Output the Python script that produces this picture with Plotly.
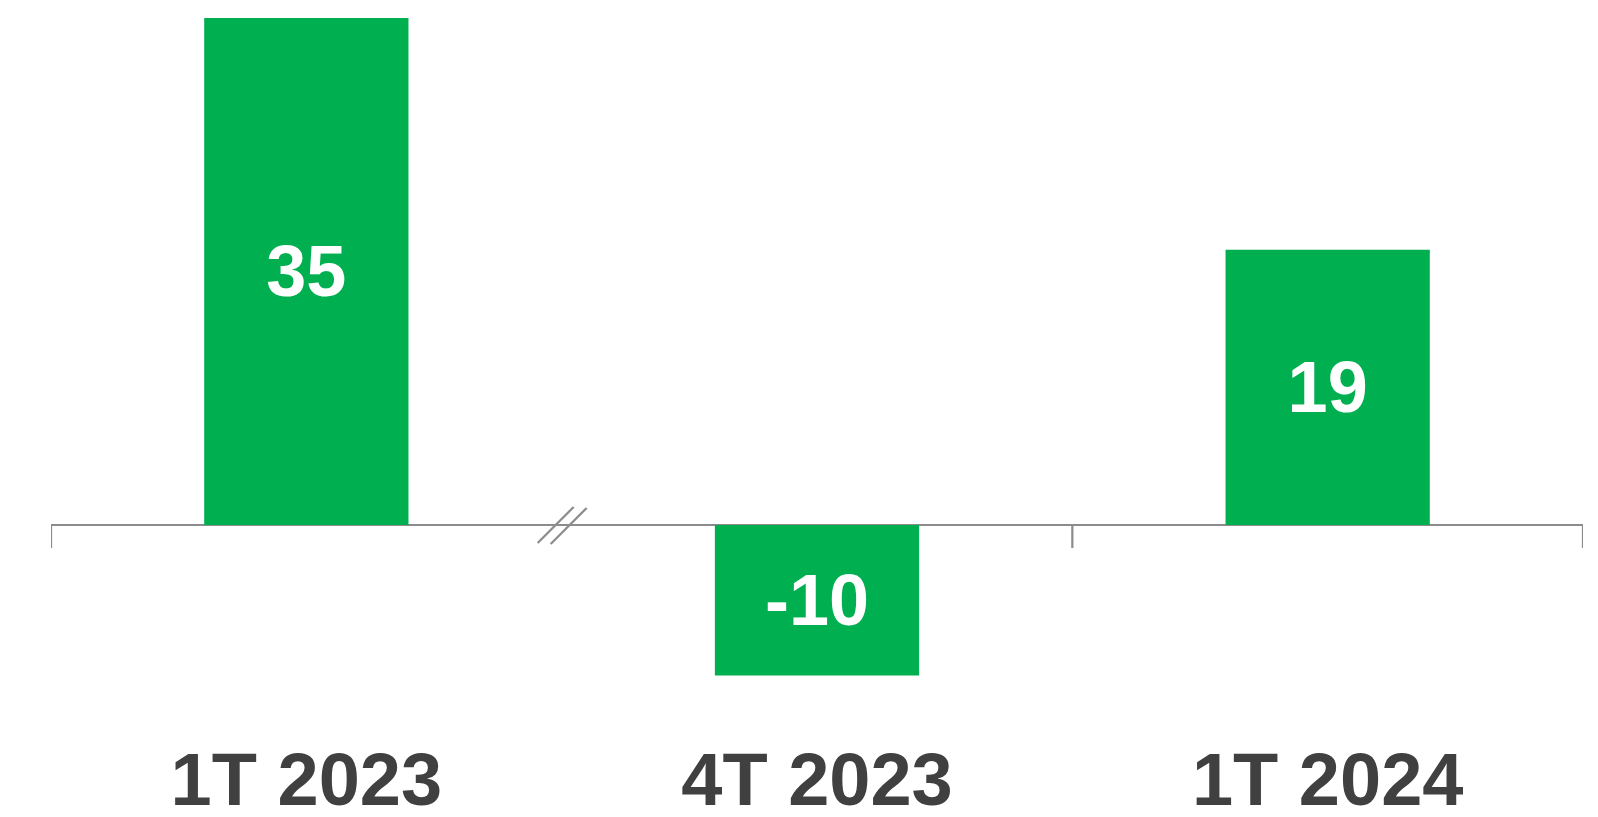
import plotly.graph_objects as go

categories = ["1T 2023", "4T 2023", "1T 2024"]
values = [35.0, -10.4, 19.0]

BAR_COLOR = "#00B050"
AXIS_COLOR = "#8C8C8C"
TEXT_COLOR = "#404040"
FONT = "Liberation Sans, Arial, sans-serif"

fig = go.Figure(
    go.Bar(
        x=categories,
        y=values,
        width=0.4,
        marker=dict(color=BAR_COLOR, line=dict(width=0)),
        texttemplate="%{y:.0f}",
        textposition="inside",
        insidetextanchor="middle",
        textangle=0,
        textfont=dict(family=FONT, size=72, color="white", weight="bold"),
        cliponaxis=False,
        hoverinfo="skip",
    )
)

shapes = []
# tick marks at category boundaries (excluding the broken one)
for xb in [-0.5, 1.5, 2.5]:
    shapes.append(dict(type="line", xref="x", yref="y", x0=xb, x1=xb,
                       ysizemode="pixel", yanchor=0, y0=0, y1=-23,
                       line=dict(color=AXIS_COLOR, width=2.25)))
# axis-break marks
for dx0, dy0, dx1, dy1 in [(-24, -18, 12, 18), (-11, -19, 25, 17)]:
    shapes.append(dict(type="line", xref="x", yref="y",
                       xsizemode="pixel", xanchor=0.5, x0=dx0, x1=dx1,
                       ysizemode="pixel", yanchor=0, y0=dy0, y1=dy1,
                       line=dict(color=AXIS_COLOR, width=2.25)))

fig.update_layout(
    width=1598, height=817,
    margin=dict(l=43, r=23, t=10, b=109),
    plot_bgcolor="white", paper_bgcolor="white",
    showlegend=False,
    bargap=0.6,
    shapes=shapes,
    xaxis=dict(
        range=[-0.5, 2.5],
        automargin=False,
        showgrid=False, zeroline=False, showline=False, ticks="",
        tickfont=dict(family=FONT, size=74, color=TEXT_COLOR, weight="bold"),
        ticklabelstandoff=14,
    ),
    yaxis=dict(
        range=[-13.19, 35],
        automargin=False,
        showgrid=False, showticklabels=False, ticks="",
        zeroline=True, zerolinecolor=AXIS_COLOR, zerolinewidth=2.25,
        showline=False,
    ),
)

fig.write_html("out.html")
